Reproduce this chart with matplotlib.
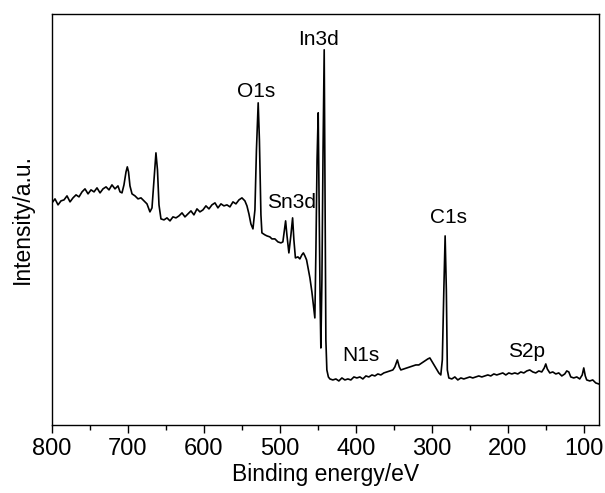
import matplotlib
matplotlib.use('Agg')
import matplotlib.pyplot as plt
from matplotlib.ticker import MultipleLocator
import numpy as np

plt.rcParams['font.family'] = ['Liberation Sans', 'DejaVu Sans']

# XPS survey spectrum (binding energy in eV, intensity in a.u.)
energy = [
    800.0, 796.1, 792.1, 788.2, 784.2, 780.3, 776.3, 772.4, 768.4, 764.5,
    760.5, 756.6, 752.6, 748.7, 744.7, 740.8, 736.8, 732.9, 728.9, 725.0,
    721.1, 717.1, 713.2, 710.5, 707.9, 705.3, 702.6, 700.9, 699.3, 697.4,
    694.7, 690.8, 686.8, 682.9, 678.9, 675.0, 671.1, 668.4, 665.8, 663.2,
    661.2, 659.2, 656.6, 652.6, 648.7, 644.7, 640.8, 636.8, 632.9, 628.9,
    625.0, 621.1, 617.1, 613.2, 609.2, 605.3, 601.3, 597.4, 593.4, 589.5,
    585.5, 581.6, 577.6, 573.7, 569.7, 565.8, 561.8, 557.9, 553.9, 550.0,
    546.1, 543.4, 540.8, 538.2, 535.5, 532.9, 530.9, 528.6, 527.0, 525.0,
    523.7, 519.7, 517.1, 513.2, 510.5, 506.6, 502.6, 498.7, 496.1, 494.1,
    492.5, 490.8, 488.2, 485.5, 483.3, 481.6, 479.6, 476.3, 473.7, 471.1,
    469.1, 467.1, 464.9, 462.5, 460.5, 457.9, 455.9, 454.0, 452.6, 451.1,
    449.6, 448.4, 447.1, 446.1, 444.7, 443.2, 441.7, 440.5, 439.5, 438.2,
    436.2, 434.2, 430.3, 426.3, 422.4, 418.4, 414.5, 410.5, 406.6, 402.6,
    398.7, 394.7, 390.8, 386.8, 382.9, 378.9, 375.0, 371.1, 367.1, 363.2,
    359.2, 355.3, 351.3, 348.7, 345.4, 342.8, 340.8, 336.8, 332.9, 328.9,
    325.0, 321.1, 317.1, 313.2, 309.2, 305.3, 302.6, 298.7, 294.7, 290.8,
    288.2, 286.2, 284.2, 282.5, 280.9, 279.6, 277.6, 273.7, 269.7, 265.8,
    261.8, 257.9, 253.9, 250.0, 246.1, 242.1, 238.2, 234.2, 230.3, 226.3,
    222.4, 218.4, 214.5, 210.5, 206.6, 202.6, 198.7, 194.7, 190.8, 186.8,
    182.9, 178.9, 175.0, 171.1, 167.1, 163.2, 159.2, 155.3, 152.0, 150.0,
    148.0, 144.7, 140.8, 136.8, 132.9, 128.9, 125.0, 122.4, 119.7, 117.1,
    113.2, 109.2, 105.3, 102.0, 100.0, 98.0, 96.1, 92.1, 88.2, 84.2,
    80.3,
]
intensity = [
    222, 226, 220, 224, 225, 229, 223, 227, 230, 228,
    233, 236, 231, 235, 233, 237, 232, 236, 238, 235,
    240, 236, 239, 233, 232, 240, 253, 258, 253, 239,
    231, 229, 226, 227, 224, 221, 213, 217, 245, 272,
    255, 220, 206, 205, 207, 204, 208, 207, 209, 212,
    208, 211, 214, 210, 216, 213, 215, 219, 216, 220,
    222, 217, 221, 219, 220, 218, 223, 221, 225, 227,
    224, 219, 211, 201, 196, 215, 275, 322, 285, 210,
    192, 190, 189, 188, 186, 186, 183, 182, 183, 195,
    204, 190, 172, 190, 207, 185, 167, 168, 166, 170,
    172, 169, 165, 155, 147, 133, 120, 107, 175, 265,
    312, 225, 125, 77, 145, 275, 375, 225, 85, 55,
    48, 46, 45, 46, 44, 47, 45, 46, 45, 48,
    47, 48, 46, 49, 48, 50, 49, 51, 50, 52,
    53, 54, 55, 58, 65, 58, 55, 56, 57, 58,
    59, 60, 60, 62, 64, 66, 67, 62, 57, 52,
    50, 65, 135, 189, 135, 55, 47, 46, 48, 45,
    47, 46, 47, 48, 47, 48, 49, 48, 49, 50,
    49, 51, 50, 51, 52, 50, 52, 51, 52, 51,
    53, 52, 54, 55, 53, 52, 54, 53, 57, 61,
    56, 52, 53, 51, 52, 49, 51, 54, 53, 48,
    47, 48, 46, 50, 57, 49, 45, 44, 45, 42,
    41,
]

peak_labels = ['In3d', 'O1s', 'Sn3d', 'C1s', 'N1s', 'S2p']
label_energy = [448.7, 531.6, 484.2, 277.6, 393.0, 175.0]
label_height = [380, 328, 217, 202, 64, 68]

fig = plt.figure(figsize=(6.05, 4.93), dpi=100)
ax = fig.add_axes([0.086, 0.138, 0.904, 0.834])

ax.plot(energy, intensity, color='black', lw=1.2)

for name, e, h in zip(peak_labels, label_energy, label_height):
    ax.text(e, h, name, ha='center', va='baseline', fontsize=15)

ax.set_xlim(800, 80)
ax.set_ylim(0, 411)
ax.xaxis.set_major_locator(MultipleLocator(100))
ax.xaxis.set_minor_locator(MultipleLocator(50))
ax.tick_params(axis='x', which='major', direction='out', length=6,
               width=1.0, labelsize=17, pad=3.5)
ax.tick_params(axis='x', which='minor', direction='out', length=3.5, width=1.0)
ax.set_yticks([])
for sp in ax.spines.values():
    sp.set_linewidth(1.0)

ax.set_xlabel('Binding energy/eV', fontsize=16.5, labelpad=2)
ax.set_ylabel('Intensity/a.u.', fontsize=16.5, labelpad=13)

fig.savefig('out.png', dpi=100)
